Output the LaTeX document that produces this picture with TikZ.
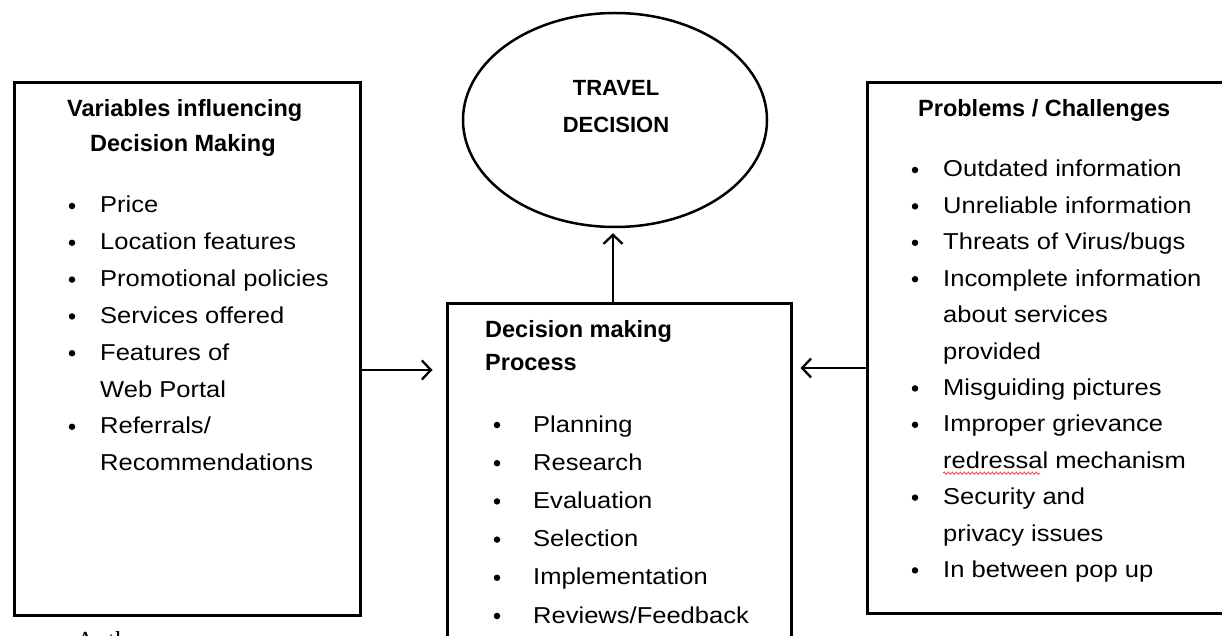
\documentclass[tikz,border=0pt]{standalone}
\usepackage{fontspec}
\setmainfont[FakeStretch=1.11]{Liberation Sans}
\newfontfamily\hdfont{Liberation Sans}
\newfontfamily\serfont{Liberation Serif}
\usetikzlibrary{arrows.meta,shapes.geometric,decorations.pathmorphing}
\tikzset{
  box/.style={draw, line width=3pt, inner sep=0pt},
  ell/.style={draw, ellipse, line width=2.5pt, inner sep=0pt},
  arr/.style={line width=2.3pt, -{Straight Barb[length=9pt,width=19pt]}},
  item/.style={anchor=base west, inner sep=0pt, font=\fontsize{23}{27}\selectfont},
  head/.style={anchor=base west, inner sep=0pt, font=\hdfont\bfseries\fontsize{23.5}{28}\selectfont},
  dot/.style={circle, fill, inner sep=0pt, minimum size=6.5pt},
  squig/.style={draw=red!75, line width=0.8pt, decorate, decoration={snake, amplitude=1.2pt, segment length=4pt}}
}
\newcommand\bitem[5]{\node[dot] (#1d) at (#2, #4-7) {}; \node[item] (#1) at (#3,#4) {#5};}
\begin{document}
\begin{tikzpicture}[x=1pt,y=-1pt]
\useasboundingbox (0,0) rectangle (1222,636);

% boxes
\node[box, minimum width=346pt, minimum height=532pt] (L) at (187,349) {};
\node[box, minimum width=368pt, minimum height=530pt] (R) at (1051,348) {};
\node[box, minimum width=344pt, minimum height=357pt] (M) at (619,481.5) {};
\node[ell, minimum width=304pt, minimum height=214pt] (E) at (615,120) {};

% ellipse text
\node[inner sep=0pt, align=center, font=\hdfont\bfseries\fontsize{22}{37}\selectfont] (Et) at (616,107) {TRAVEL\\DECISION};

% left box
\node[head] (Lh1) at (67,117) {Variables influencing};
\node[head] (Lh2) at (90,152) {Decision Making};
\bitem{l1}{72}{100}{213}{Price}
\bitem{l2}{72}{100}{249.8}{Location features}
\bitem{l3}{72}{100}{286.6}{Promotional policies}
\bitem{l4}{72}{100}{323.4}{Services offered}
\bitem{l5}{72}{100}{360.2}{Features of}
\node[item] (l6) at (100,397) {Web Portal};
\bitem{l7}{72}{100}{433.8}{Referrals/}
\node[item] (l8) at (100,470.6) {Recommendations};

% middle box
\node[head] (Mh1) at (485,337) {Decision making};
\node[head] (Mh2) at (485,370) {Process};
\bitem{m1}{497}{533}{432}{Planning}
\bitem{m2}{497}{533}{470.2}{Research}
\bitem{m3}{497}{533}{508.4}{Evaluation}
\bitem{m4}{497}{533}{546.6}{Selection}
\bitem{m5}{497}{533}{584.8}{Implementation}
\bitem{m6}{497}{533}{623}{Reviews/Feedback}

% right box
\node[head] (Rh) at (918,117) {Problems / Challenges};
\bitem{r1}{915}{943}{177}{Outdated information}
\bitem{r2}{915}{943}{213.4}{Unreliable information}
\bitem{r3}{915}{943}{249.8}{Threats of Virus/bugs}
\bitem{r4}{915}{943}{286.2}{Incomplete information}
\node[item] (r5) at (943,322.6) {about services};
\node[item] (r6) at (943,359) {provided};
\bitem{r7}{915}{943}{395.4}{Misguiding pictures}
\bitem{r8}{915}{943}{431.8}{Improper grievance}
\node[item] (r9) at (943,468.2) {redressal mechanism};
\bitem{r10}{915}{943}{504.6}{Security and}
\node[item] (r11) at (943,541) {privacy issues};
\bitem{r12}{915}{943}{577.4}{In between pop up};
\path[squig] ([yshift=-5pt]r9.base west) -- ++(97,0);

% bottom cut-off text (cut off in the reference too)
\node[anchor=base west, inner sep=0pt, font=\serfont\fontsize{26}{30}\selectfont] (au) at (76,649) {Auth};

% connectors
\draw[arr, shorten >=13pt] (L.east |- 0,370) -- (M.west |- 0,370);
\draw[arr, shorten >=8pt] (R.west |- 0,368) -- (M.east |- 0,368);
\draw[arr, shorten >=5pt] (M.north -| 613,0) -- (E.south -| 613,0);
\end{tikzpicture}
\end{document}
